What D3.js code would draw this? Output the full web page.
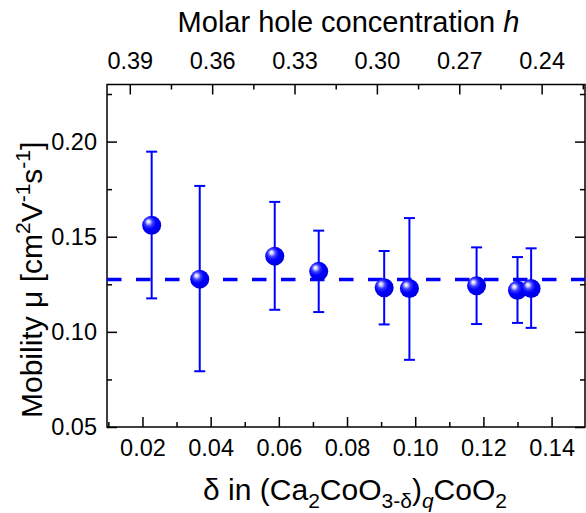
<!DOCTYPE html>
<html>
<head>
<meta charset="utf-8">
<script src="https://cdn.jsdelivr.net/npm/d3@7"></script>
<style>
  html, body { margin: 0; padding: 0; background: #fff; }
  svg { display: block; }
  text { font-family: "Liberation Sans", Arial, Helvetica, sans-serif; fill: #000; }
</style>
</head>
<body>
<svg id="chart" width="586" height="513"></svg>
<script>
// ---- data ----
const delta    = [0.0227, 0.0368, 0.0588, 0.0717, 0.0909, 0.0983, 0.1180, 0.1300, 0.1340];
const mobility = [0.1560, 0.1277, 0.1398, 0.1318, 0.1232, 0.1228, 0.1242, 0.1219, 0.1228];
const errHigh  = [0.1947, 0.1767, 0.1683, 0.1532, 0.1425, 0.1598, 0.1444, 0.1393, 0.1439];
const errLow   = [0.1176, 0.0793, 0.1116, 0.1104, 0.1039, 0.0853, 0.1041, 0.1047, 0.1021];
const meanMobility = 0.1275;
const xTickValues = [0.02, 0.04, 0.06, 0.08, 0.10, 0.12, 0.14];
const xMinorTicks = [0.01, 0.03, 0.05, 0.07, 0.09, 0.11, 0.13];
const yTickValues = [0.05, 0.10, 0.15, 0.20];
const yMinorTicks = [0.075, 0.125, 0.175, 0.225];
const hTickValues = [0.39, 0.36, 0.33, 0.30, 0.27, 0.24];
const hMinorTicks = [0.375, 0.345, 0.315, 0.285, 0.255, 0.225];

// ---- layout ----
const L = 107, R = 585, T = 84.5, B = 427;
const svg = d3.select("#chart");

const x = d3.scaleLinear().domain([0.0096, 0.1498]).range([L, R]);
const y = d3.scaleLinear().domain([0.05, 0.23]).range([B, T]);
const h = d3.scaleLinear().domain([0.3983, 0.2242]).range([L, R]);

const blue = "#0000ff";

// gradient for spheres
const defs = svg.append("defs");
const grad = defs.append("radialGradient").attr("id", "ball")
  .attr("cx", "40%").attr("cy", "40%").attr("r", "60%")
  .attr("fx", "32%").attr("fy", "30%");
[[0, "#ffffff"], [0.12, "#dcdcff"], [0.35, "#3c3cff"], [0.6, "#0000ff"], [1, "#0000dd"]]
  .forEach(([o, c]) => grad.append("stop").attr("offset", o).attr("stop-color", c));

// ---- axes (ticks inside) ----
function fmt2(d) { return d3.format(".2f")(d); }

const gB = svg.append("g").attr("transform", `translate(0,${B})`)
  .call(d3.axisBottom(x).tickValues(xTickValues).tickSizeInner(-10).tickSizeOuter(0).tickPadding(12).tickFormat(fmt2));
gB.append("g").call(d3.axisBottom(x).tickValues(xMinorTicks).tickSizeInner(-5).tickSizeOuter(0).tickFormat(""));

const gT = svg.append("g").attr("transform", `translate(0,${T})`)
  .call(d3.axisTop(h).tickValues(hTickValues).tickSizeInner(-10).tickSizeOuter(0).tickPadding(16).tickFormat(fmt2));
gT.append("g").call(d3.axisTop(h).tickValues(hMinorTicks).tickSizeInner(-5).tickSizeOuter(0).tickFormat(""));

const gL = svg.append("g").attr("transform", `translate(${L},0)`)
  .call(d3.axisLeft(y).tickValues(yTickValues).tickSizeInner(-10).tickSizeOuter(0).tickPadding(10).tickFormat(fmt2));
gL.append("g").call(d3.axisLeft(y).tickValues(yMinorTicks).tickSizeInner(-5).tickSizeOuter(0).tickFormat(""));

const gR = svg.append("g").attr("transform", `translate(${R},0)`)
  .call(d3.axisRight(y).tickValues(yTickValues).tickSizeInner(-10).tickSizeOuter(0).tickFormat(""));
gR.append("g").call(d3.axisRight(y).tickValues(yMinorTicks).tickSizeInner(-5).tickSizeOuter(0).tickFormat(""));

svg.selectAll(".domain").remove();
svg.selectAll(".tick line").attr("stroke", "#000").attr("stroke-width", 1.5);
svg.selectAll(".tick text").attr("font-size", 23.5).attr("font-family", "Liberation Sans, Arial, sans-serif").attr("fill", "#000");

// frame
svg.append("rect").attr("x", L).attr("y", T).attr("width", R - L).attr("height", B - T)
  .attr("fill", "none").attr("stroke", "#000").attr("stroke-width", 1.5);

// ---- mean dashed line ----
svg.append("line")
  .attr("x1", x.range()[0]).attr("x2", x.range()[1])
  .attr("y1", y(meanMobility)).attr("y2", y(meanMobility))
  .attr("stroke", blue).attr("stroke-width", 3.5).attr("stroke-dasharray", "14.5,14.5");

// ---- error bars ----
const pts = delta.map((d, i) => ({ d, m: mobility[i], hi: errHigh[i], lo: errLow[i] }));
const eb = svg.append("g").attr("stroke", blue).attr("stroke-width", 2);
eb.selectAll(".v").data(pts).join("line")
  .attr("x1", p => x(p.d)).attr("x2", p => x(p.d))
  .attr("y1", p => y(p.hi)).attr("y2", p => y(p.lo));
eb.selectAll(".ch").data(pts).join("line")
  .attr("x1", p => x(p.d) - 5.5).attr("x2", p => x(p.d) + 5.5)
  .attr("y1", p => y(p.hi)).attr("y2", p => y(p.hi));
eb.selectAll(".cl").data(pts).join("line")
  .attr("x1", p => x(p.d) - 5.5).attr("x2", p => x(p.d) + 5.5)
  .attr("y1", p => y(p.lo)).attr("y2", p => y(p.lo));

// ---- markers ----
svg.append("g").selectAll("circle").data(pts).join("circle")
  .attr("cx", p => x(p.d)).attr("cy", p => y(p.m)).attr("r", 9.5)
  .attr("fill", "url(#ball)");

// ---- titles ----
function centerText(t, cx) {
  const w = t.node().getBBox().width;
  t.attr("x", cx - w / 2);
}

const tt = svg.append("text").attr("x", 0).attr("y", 32).attr("font-size", 29);
tt.append("tspan").text("Molar hole concentration ");
tt.append("tspan").attr("font-style", "italic").text("h");
centerText(tt, 348.5);

const xt = svg.append("text").attr("x", 0).attr("y", 500).attr("font-size", 30);
xt.append("tspan").text("δ in (Ca");
xt.append("tspan").attr("font-size", 21).attr("dy", 8).text("2");
xt.append("tspan").attr("dy", -8).text("CoO");
xt.append("tspan").attr("font-size", 21).attr("dy", 8).text("3-δ");
xt.append("tspan").attr("dy", -8).text(")");
xt.append("tspan").attr("font-size", 21).attr("dy", 8).attr("font-style", "italic").text("q");
xt.append("tspan").attr("dy", -8).text("CoO");
xt.append("tspan").attr("font-size", 21).attr("dy", 8).text("2");
centerText(xt, 355);

// rotated y title: starts ("M") at screen y = 418 and reads upward
const yt = svg.append("text").attr("x", -418).attr("y", 0)
  .attr("transform", "translate(42,0) rotate(-90)").attr("font-size", 30);
yt.append("tspan").text("Mobility μ [cm");
yt.append("tspan").attr("font-size", 21).attr("dy", -12).text("2");
yt.append("tspan").attr("dy", 12).text("V");
yt.append("tspan").attr("font-size", 21).attr("dy", -12).text("-1");
yt.append("tspan").attr("dy", 12).text("s");
yt.append("tspan").attr("font-size", 21).attr("dy", -12).text("-1");
yt.append("tspan").attr("dy", 12).text("]");
</script>
</body>
</html>
